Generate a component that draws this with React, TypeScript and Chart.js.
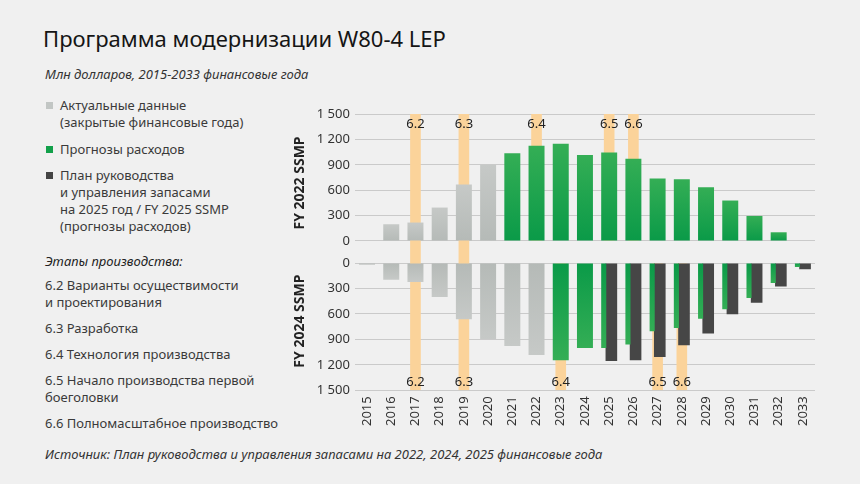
import React, { useEffect, useRef } from 'react';
import { Chart, registerables } from 'chart.js';

Chart.register(...registerables);

// ---- data ----
const years = ['2015', '2016', '2017', '2018', '2019', '2020', '2021', '2022', '2023', '2024', '2025', '2026', '2027', '2028', '2029', '2030', '2031', '2032', '2033'];
// FY 2022 SSMP (top panel), mln USD
const fy2022Ssmp: (number | null)[] = [null, 198, 218, 395, 668, 900, 1035, 1125, 1148, 1015, 1046, 971, 739, 730, 636, 478, 296, 103, null];
const fy2022LastActual = '2020';
// FY 2024 SSMP (bottom panel), mln USD
const fy2024Ssmp: (number | null)[] = [20, 196, 224, 400, 664, 895, 978, 1084, 1147, 1001, 1001, 962, 805, 766, 656, 546, 412, 236, 47];
const fy2024LastActual = '2022';
// FY 2025 SSMP (bottom panel, dark bars), mln USD
const fy2025Ssmp: (number | null)[] = [null, null, null, null, null, null, null, null, null, null, 1155, 1147, 1107, 970, 832, 605, 467, 278, 74];

const yTickValues = [0, 300, 600, 900, 1200, 1500];
const yTickLabels = ['0', '300', '600', '900', '1 200', '1 500'];

const stageLabels = ['6.2', '6.3', '6.4', '6.5', '6.6'];
const stageYearsFy2022 = ['2017', '2019', '2022', '2025', '2026'];
const stageYearsFy2024 = ['2017', '2019', '2023', '2027', '2028'];

// ---- styling constants ----
const AXIS_MIN = -130;
const AXIS_MAX = 1500;
const FONT = '"Noto Sans", sans-serif';
const GRAY_LIGHT = '#c6c9c7';
const GRAY_DARK = '#b5bab7';
const GREEN_LIGHT = '#34ae55';
const GREEN_DARK = '#0a9a48';
const DARK = '#464646';
const BAND = '#fbd39a';

function gradientFill(ctx: any, light: string, dark: string) {
  const chart = ctx.chart;
  const s = chart.scales.y;
  const v = ctx.raw;
  if (!s || v == null || !chart.chartArea) return dark;
  const y0 = s.getPixelForValue(0);
  const y1 = s.getPixelForValue(v);
  if (!isFinite(y0) || !isFinite(y1) || Math.abs(y0 - y1) < 1) return dark;
  const g = chart.ctx.createLinearGradient(0, y1, 0, y0);
  g.addColorStop(0, light);
  g.addColorStop(1, dark);
  return g;
}

function stageLabelPlugin(stageYears: string[], level: number) {
  return {
    id: 'stageLabels',
    afterDatasetsDraw(chart: any) {
      const { ctx } = chart;
      const xs = chart.scales.x;
      const ys = chart.scales.y;
      ctx.save();
      ctx.font = `13px ${FONT}`;
      ctx.fillStyle = '#222';
      ctx.textAlign = 'center';
      ctx.textBaseline = 'middle';
      stageLabels.forEach((lab, i) => {
        ctx.fillText(lab, xs.getPixelForValue(years.indexOf(stageYears[i])), ys.getPixelForValue(level));
      });
      ctx.restore();
    },
  };
}

function yScale(title: string, reverse: boolean) {
  return {
    type: 'linear',
    position: 'left',
    reverse,
    stacked: false,
    min: AXIS_MIN,
    max: AXIS_MAX,
    afterBuildTicks: (axis: any) => {
      axis.ticks = yTickValues.map((v) => ({ value: v }));
    },
    ticks: {
      autoSkip: false,
      callback: (v: number) => yTickLabels[yTickValues.indexOf(v)] ?? '',
      font: { family: FONT, size: 13 },
      color: '#333',
      padding: 5,
    },
    grid: { color: '#cacaca', drawTicks: false, lineWidth: 1 },
    border: { display: false },
    title: {
      display: true,
      text: title,
      font: { family: FONT, size: 14, weight: 'bold' },
      color: '#222',
      padding: { top: 0, bottom: 3 },
    },
  };
}

function xScale(show: boolean) {
  return {
    type: 'category',
    position: 'bottom',
    offset: true,
    display: show,
    grid: { display: false, drawTicks: false },
    border: { display: false },
    ticks: {
      autoSkip: false,
      minRotation: 90,
      maxRotation: 90,
      padding: 6,
      font: { family: FONT, size: 13 },
      color: '#333',
    },
  };
}

const baseBar = { grouped: true, skipNull: true, borderWidth: 0, categoryPercentage: 0.66, barPercentage: 1 };
const bandBar = { grouped: false, categoryPercentage: 1, barPercentage: 0.44, borderWidth: 0, backgroundColor: BAND, order: 10 };

export default function App() {
  const topRef = useRef<HTMLCanvasElement | null>(null);
  const botRef = useRef<HTMLCanvasElement | null>(null);

  useEffect(() => {
    if (!topRef.current || !botRef.current) return;
    const lastTop = years.indexOf(fy2022LastActual);
    const lastBot = years.indexOf(fy2024LastActual);

    const bottomActual = fy2024Ssmp.map((v, i) => (i <= lastBot ? v : null));
    const bottomForecastSolo = fy2024Ssmp.map((v, i) => (i > lastBot && fy2025Ssmp[i] == null ? v : null));
    const bottomForecastPaired = fy2024Ssmp.map((v, i) => (i > lastBot && fy2025Ssmp[i] != null ? v : null));

    const topBands = years.map((y) =>
      stageYearsFy2022.includes(y) ? [stageYearsFy2024.includes(y) ? AXIS_MIN : 0, AXIS_MAX] : null
    );
    const botBands = years.map((y) =>
      stageYearsFy2024.includes(y) ? [stageYearsFy2022.includes(y) ? AXIS_MIN : 0, AXIS_MAX] : null
    );

    const top = new Chart(topRef.current, {
      type: 'bar',
      data: {
        labels: years,
        datasets: [
          {
            label: 'FY 2022 SSMP',
            data: fy2022Ssmp,
            ...baseBar,
            backgroundColor: (c: any) =>
              c.dataIndex <= lastTop
                ? gradientFill(c, GRAY_LIGHT, GRAY_DARK)
                : gradientFill(c, GREEN_LIGHT, GREEN_DARK),
          },
          { label: 'stages', data: topBands as any, ...bandBar },
        ] as any,
      },
      options: {
        animation: false,
        responsive: true,
        maintainAspectRatio: false,
        layout: { padding: { left: 7, right: 15, top: 16, bottom: 13 } },
        plugins: { legend: { display: false }, tooltip: { enabled: false } },
        scales: { x: xScale(false), y: yScale('FY 2022 SSMP', false) } as any,
      },
      plugins: [stageLabelPlugin(stageYearsFy2022, 1382)],
    });

    const bottom = new Chart(botRef.current, {
      type: 'bar',
      data: {
        labels: years,
        datasets: [
          {
            label: 'FY 2024 SSMP actual',
            data: bottomActual,
            ...baseBar,
            backgroundColor: (c: any) => gradientFill(c, GRAY_LIGHT, GRAY_DARK),
          },
          {
            label: 'FY 2024 SSMP forecast',
            data: bottomForecastSolo,
            ...baseBar,
            backgroundColor: (c: any) => gradientFill(c, GREEN_LIGHT, GREEN_DARK),
          },
          {
            label: 'FY 2024 SSMP forecast (with FY 2025)',
            data: bottomForecastPaired,
            ...baseBar,
            categoryPercentage: 0.9,
            barPercentage: 0.4667,
            backgroundColor: (c: any) => gradientFill(c, GREEN_LIGHT, GREEN_DARK),
          },
          {
            label: 'FY 2025 SSMP',
            data: fy2025Ssmp,
            ...baseBar,
            categoryPercentage: 0.36,
            barPercentage: 2.667,
            backgroundColor: DARK,
          },
          { label: 'stages', data: botBands as any, ...bandBar },
        ] as any,
      },
      options: {
        animation: false,
        responsive: true,
        maintainAspectRatio: false,
        layout: { padding: { left: 7, right: 15, top: 13, bottom: 13 } },
        plugins: { legend: { display: false }, tooltip: { enabled: false } },
        scales: { x: xScale(true), y: yScale('FY 2024 SSMP', true) } as any,
      },
      plugins: [stageLabelPlugin(stageYearsFy2024, 1405)],
    });

    return () => {
      top.destroy();
      bottom.destroy();
    };
  }, []);

  const text: React.CSSProperties = {
    position: 'absolute',
    left: 45,
    fontFamily: FONT,
    fontSize: 13,
    lineHeight: '17px',
    color: '#3a3a3a',
    margin: 0,
    whiteSpace: 'nowrap',
  };
  const sq = (color: string, top: number): React.CSSProperties => ({
    position: 'absolute',
    left: 46,
    top,
    width: 7,
    height: 7,
    background: color,
  });

  return (
    <div
      style={{
        position: 'absolute',
        left: 0,
        top: 0,
        width: 860,
        height: 484,
        background: '#f0f0f0',
        overflow: 'hidden',
        fontFamily: FONT,
      }}
    >
      <div style={{ ...text, left: 43, top: 24, fontSize: 22, lineHeight: '28px', color: '#151515' }}>
        Программа модернизации W80-4 LEP
      </div>
      <div style={{ ...text, top: 66, fontStyle: 'italic', color: '#333' }}>
        Млн долларов, 2015-2033 финансовые года
      </div>

      <div style={sq('#c2c6c4', 102)} />
      <div style={{ ...text, left: 60, top: 96.5 }}>
        Актуальные данные
        <br />
        (закрытые финансовые года)
      </div>
      <div style={sq('#12a04a', 146)} />
      <div style={{ ...text, left: 60, top: 140.5 }}>Прогнозы расходов</div>
      <div style={sq('#444444', 172)} />
      <div style={{ ...text, left: 60, top: 166.5 }}>
        План руководства
        <br />
        и управления запасами
        <br />
        на 2025 год / FY 2025 SSMP
        <br />
        (прогнозы расходов)
      </div>

      <div style={{ ...text, top: 252.5, fontStyle: 'italic', color: '#222' }}>Этапы производства:</div>
      <div style={{ ...text, top: 276.5 }}>
        6.2 Варианты осуществимости
        <br />
        и проектирования
      </div>
      <div style={{ ...text, top: 319.5 }}>6.3 Разработка</div>
      <div style={{ ...text, top: 345.5 }}>6.4 Технология производства</div>
      <div style={{ ...text, top: 371.5 }}>
        6.5 Начало производства первой
        <br />
        боеголовки
      </div>
      <div style={{ ...text, top: 414.5 }}>6.6 Полномасштабное производство</div>

      <div style={{ ...text, top: 446, fontStyle: 'italic', color: '#333' }}>
        Источник: План руководства и управления запасами на 2022, 2024, 2025 финансовые года
      </div>

      <div style={{ position: 'absolute', left: 285, top: 98, width: 545, height: 167 }}>
        <canvas ref={topRef} />
      </div>
      <div style={{ position: 'absolute', left: 285, top: 239, width: 545, height: 206 }}>
        <canvas ref={botRef} />
      </div>
    </div>
  );
}
